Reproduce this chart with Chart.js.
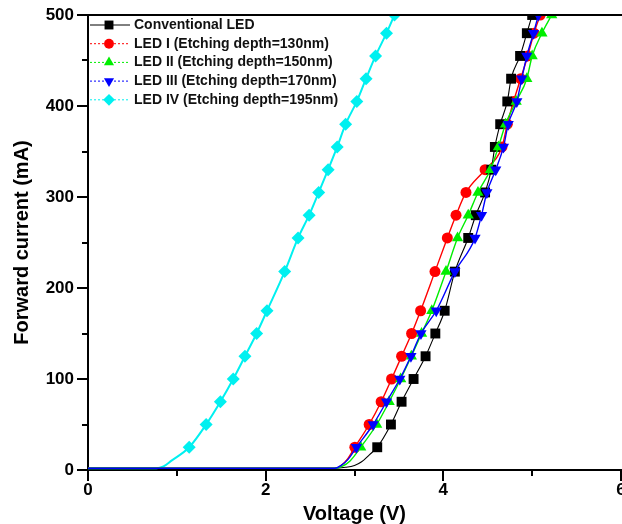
<!DOCTYPE html>
<html>
<head>
<meta charset="utf-8">
<script src="https://cdn.jsdelivr.net/npm/chart.js@4.4.1/dist/chart.umd.min.js"></script>
<style>
html,body{margin:0;padding:0;background:#fff;overflow:hidden;}
#wrap{width:628px;height:524px;}
</style>
</head>
<body>
<div id="wrap"><canvas id="c" width="628" height="524"></canvas></div>
<script>
// ---- data (Voltage in V, Forward current in mA) ----
const seriesNames = [
  "Conventional LED",
  "LED I (Etching depth=130nm)",
  "LED II (Etching depth=150nm)",
  "LED III (Etching depth=170nm)",
  "LED IV (Etching depth=195nm)"
];
const convV = [0, 2.75, 2.9, 3.0, 3.08, 3.17, 3.256, 3.41, 3.53, 3.665, 3.80, 3.91, 4.015, 4.13, 4.28, 4.365, 4.47, 4.54, 4.58, 4.64, 4.72, 4.763, 4.864, 4.94, 5.0];
const convI = [2, 2, 3, 5, 9, 17, 25, 50, 75, 100, 125, 150, 175, 218, 255, 280, 305, 330, 355, 380, 405, 430, 455, 480, 500];
const led1V = [0, 2.78, 2.85, 2.92, 3.004, 3.165, 3.30, 3.417, 3.53, 3.643, 3.744, 3.906, 4.045, 4.143, 4.255, 4.47, 4.66, 4.72, 4.79, 4.87, 4.95, 5.02, 5.09];
const led1I = [2, 2, 5, 12, 25, 50, 75, 100, 125, 150, 175, 218, 255, 280, 305, 330, 355, 380, 405, 430, 455, 480, 500];
const led2V = [0, 2.78, 2.86, 2.95, 3.07, 3.25, 3.39, 3.52, 3.64, 3.755, 3.87, 4.03, 4.16, 4.28, 4.39, 4.53, 4.62, 4.70, 4.82, 4.94, 5.0, 5.11, 5.22];
const led2I = [2, 2, 4, 10, 25, 50, 75, 100, 125, 150, 175, 218, 255, 280, 305, 330, 355, 380, 405, 430, 455, 480, 500];
const led3V = [0, 2.78, 2.85, 2.93, 3.022, 3.21, 3.36, 3.51, 3.635, 3.748, 3.92, 4.13, 4.357, 4.43, 4.49, 4.59, 4.677, 4.73, 4.827, 4.883, 4.94, 5.015, 5.07];
const led3I = [2, 2, 5, 12, 25, 50, 75, 100, 125, 150, 175, 218, 255, 280, 305, 330, 355, 380, 405, 430, 455, 480, 500];
const led4V = [0, 0.77, 0.85, 0.936, 1.139, 1.33, 1.49, 1.635, 1.767, 1.898, 2.015, 2.214, 2.365, 2.489, 2.597, 2.703, 2.805, 2.90, 3.026, 3.13, 3.237, 3.36, 3.45];
const led4I = [2, 2, 4, 10, 25, 50, 75, 100, 125, 150, 175, 218, 255, 280, 305, 330, 355, 380, 405, 430, 455, 480, 500];
const xTicks = [0, 2, 4, 6];
const yTicks = [0, 100, 200, 300, 400, 500];
const xMinor = [1, 3, 5];
const yMinor = [50, 150, 250, 350, 450];

const styles = [
  {color:'#000000', point:'rect', r:7, rot:0, width:1.1, order:2, dash:[]},
  {color:'#ff0000', point:'circle', r:5.5, rot:0, width:1.4, order:3, dash:[2,2]},
  {color:'#00ee00', point:'triangle', r:6.5, rot:0, width:1.4, order:1, dash:[2,2]},
  {color:'#0000ff', point:'triangle', r:6.5, rot:180, width:1.4, order:0, dash:[2,2]},
  {color:'#00f0f0', point:'rectRot', r:6.5, rot:0, width:2, order:4, dash:[2,2]}
];
const vs = [convV, led1V, led2V, led3V, led4V];
const is = [convI, led1I, led2I, led3I, led4I];

const datasets = seriesNames.map((name, k) => ({
  label: name,
  data: vs[k].map((v, i) => ({x: v, y: is[k][i]})),
  borderColor: styles[k].color,
  backgroundColor: styles[k].color,
  borderWidth: styles[k].width,
  pointStyle: styles[k].point,
  pointRotation: styles[k].rot,
  pointRadius: ctx => (ctx.raw && ctx.raw.y >= 20 ? styles[k].r : 0),
  pointBorderWidth: 0,
  order: styles[k].order,
  tension: 0,
  cubicInterpolationMode: 'monotone',
  showLine: true,
  fill: false
}));

const axisDeco = {
  id: 'axisDeco',
  afterDraw(chart) {
    const {ctx, chartArea: a, scales: {x, y}} = chart;
    ctx.save();
    ctx.strokeStyle = '#000';
    ctx.lineWidth = 2;
    // top frame line
    ctx.beginPath();
    ctx.moveTo(a.left - 1, a.top);
    ctx.lineTo(chart.width, a.top);
    ctx.stroke();
    // minor ticks
    yMinor.forEach(v => {
      const py = Math.round(y.getPixelForValue(v));
      ctx.beginPath(); ctx.moveTo(a.left - 6, py); ctx.lineTo(a.left, py); ctx.stroke();
    });
    xMinor.forEach(v => {
      const px = Math.round(x.getPixelForValue(v));
      ctx.beginPath(); ctx.moveTo(px, a.bottom); ctx.lineTo(px, a.bottom + 6); ctx.stroke();
    });
    // legend inside plot
    ctx.font = 'bold 14px "Liberation Sans", Arial, sans-serif';
    ctx.textBaseline = 'middle';
    ctx.textAlign = 'left';
    chart.data.datasets.forEach((ds, k) => {
      const st = styles[k];
      const ly = a.top + 10 + k * 18.7;
      ctx.strokeStyle = st.color;
      ctx.lineWidth = 1;
      ctx.setLineDash(st.dash);
      ctx.beginPath(); ctx.moveTo(a.left + 2, ly); ctx.lineTo(a.left + 42, ly); ctx.stroke();
      ctx.setLineDash([]);
      ctx.fillStyle = st.color;
      Chart.helpers.drawPoint(ctx, {pointStyle: st.point, rotation: st.rot, radius: st.r * 0.9, borderWidth: 0}, a.left + 21, ly);
      ctx.fillStyle = '#111';
      ctx.fillText(ds.label, a.left + 46, ly);
    });
    ctx.restore();
  }
};

new Chart(document.getElementById('c'), {
  type: 'scatter',
  data: {datasets},
  options: {
    responsive: false,
    animation: false,
    devicePixelRatio: 1,
    layout: {padding: {top: 15, right: 0, bottom: 0, left: 0}},
    plugins: {legend: {display: false}, tooltip: {enabled: false}},
    scales: {
      x: {
        type: 'linear', min: 0, max: 6,
        afterBuildTicks: s => { s.ticks = xTicks.map(v => ({value: v})); },
        afterFit: s => { s.height = 54; },
        border: {display: true, color: '#000', width: 2},
        grid: {drawOnChartArea: false, drawTicks: true, tickLength: 11, color: '#000', lineWidth: 2},
        ticks: {color: '#000', padding: -1, maxRotation: 0, font: {family: '"Liberation Sans", Arial, sans-serif', size: 17, weight: 'bold'}},
        title: {display: true, text: 'Voltage (V)', color: '#000', padding: {top: 0, bottom: 0},
          font: {family: '"Liberation Sans", Arial, sans-serif', size: 20, weight: 'bold', lineHeight: 1}}
      },
      y: {
        type: 'linear', min: 0, max: 500,
        afterBuildTicks: s => { s.ticks = yTicks.map(v => ({value: v})); },
        afterFit: s => { s.width = 88; },
        border: {display: true, color: '#000', width: 2},
        grid: {drawOnChartArea: false, drawTicks: true, tickLength: 11, color: '#000', lineWidth: 2},
        ticks: {color: '#000', padding: 3, font: {family: '"Liberation Sans", Arial, sans-serif', size: 17, weight: 'bold'}},
        title: {display: true, text: 'Forward current (mA)', color: '#000', padding: {top: 12, bottom: 0},
          font: {family: '"Liberation Sans", Arial, sans-serif', size: 20, weight: 'bold', lineHeight: 1}}
      }
    }
  },
  plugins: [axisDeco]
});
</script>
</body>
</html>
